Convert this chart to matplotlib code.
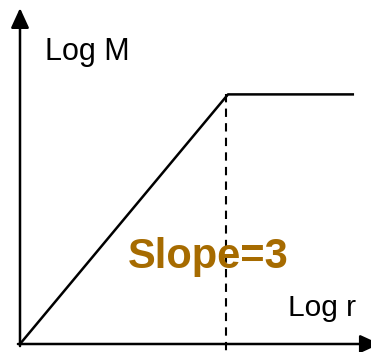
import matplotlib
matplotlib.use("Agg")
import matplotlib.pyplot as plt

plt.rcParams['font.family'] = ['Liberation Sans', 'DejaVu Sans']

# schematic mass profile: M ~ r^3 inside the break, flat outside
log_r = [0.0, 1.0, 1.606]
log_m = [0.0, 1.2, 1.2]
r_break = 0.99
slope_label = "Slope=3"

fig = plt.figure(figsize=(3.71, 3.52), dpi=100)
ax = fig.add_axes([0, 0, 1, 1])
ax.set_xlim(-20 / 208, 351 / 208)
ax.set_ylim(-8 / 208, 344 / 208)
ax.axis('off')

# axes with arrow heads
arrow = dict(arrowstyle='-|>,head_length=1.2,head_width=0.55',
             color='black', lw=1.8, shrinkA=0, shrinkB=0)
ax.annotate('', xy=(0, 1.615), xytext=(0, -0.01), arrowprops=arrow,
            annotation_clip=False)
ax.annotate('', xy=(1.73, 0), xytext=(-0.01, 0), arrowprops=arrow,
            annotation_clip=False)

ax.plot(log_r, log_m, color='black', lw=1.8, solid_capstyle='butt')
ax.plot([r_break, r_break], [log_m[1], -0.05], color='black', lw=1.5,
        linestyle=(0, (4, 3)), dash_capstyle='butt')

ax.text(0.12, 1.365, 'Log M', fontsize=22, ha='left', va='baseline')
ax.text(1.288, 0.135, 'Log r', fontsize=21.5, ha='left', va='baseline')
ax.text(0.519, 0.365, slope_label, fontsize=30, fontweight='bold',
        color='#a66b00', ha='left', va='baseline')

fig.savefig('out.png', dpi=100)
